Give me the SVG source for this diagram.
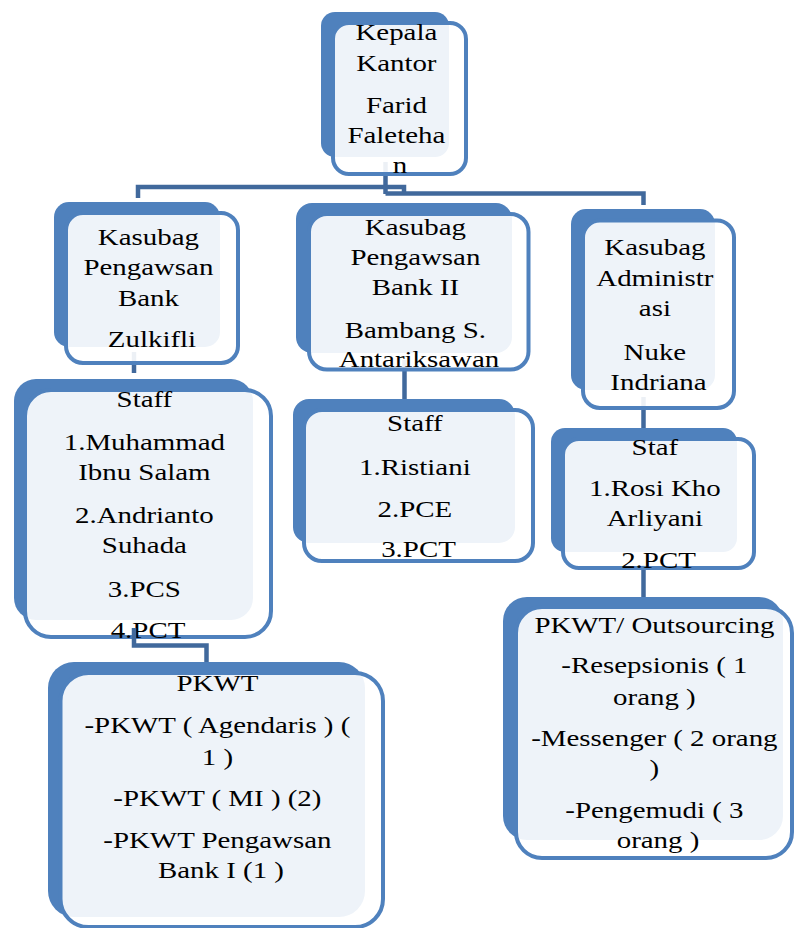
<svg xmlns="http://www.w3.org/2000/svg" width="794" height="928" viewBox="0 0 794 928">
<style>
.back{fill:#4F81BD}
.front{fill:#FFFFFF;fill-opacity:0.9;stroke:#4F81BD;stroke-width:4}
.conn{fill:none;stroke:#41699C;stroke-width:4.5}
.t{font-family:'Liberation Serif','Times New Roman','DejaVu Serif',serif;font-size:23.5px;fill:#000;text-anchor:middle}
</style>
<rect width="794" height="928" fill="#FFFFFF"/>

<g id="node-staff-bank1">
<rect class="back" x="14" y="379" width="239" height="241" rx="22"/>
<rect class="front" x="25" y="390" width="246" height="247" rx="26"/>
<text class="t" font-family="Liberation Serif, Times New Roman, DejaVu Serif, serif" transform="translate(148,0) scale(1.23,1)">
<tspan x="0" y="407">Staff</tspan>
<tspan x="0" y="450">1.Muhammad</tspan>
<tspan x="0" y="480">Ibnu Salam</tspan>
<tspan x="0" y="523">2.Andrianto</tspan>
<tspan x="0" y="553">Suhada</tspan>
<tspan x="0" y="597">3.PCS</tspan>
<tspan x="0" y="638">4.PCT</tspan>
</text>
</g>

<g id="connectors">
<path class="conn" d="M385.5,162 V194"/>
<path class="conn" d="M138,198 V187 H404 V194"/>
<path class="conn" d="M385.5,193.5 H643.5 V205"/>
<path class="conn" d="M134,352 V373"/>
<path class="conn" d="M404.5,360 V399"/>
<path class="conn" d="M643.5,397 V428"/>
<path class="conn" d="M643.5,565 V597"/>
<path class="conn" d="M134,628 V645.5 H206.5 V662"/>
</g>

<g id="node-kepala">
<rect class="back" x="321" y="12" width="128" height="145" rx="14"/>
<rect class="front" x="333" y="23" width="133" height="151" rx="16"/>
<text class="t" font-family="Liberation Serif, Times New Roman, DejaVu Serif, serif" transform="translate(400,0) scale(1.23,1)">
<tspan x="0" y="40">Kepala</tspan>
<tspan x="0" y="71">Kantor</tspan>
<tspan x="0" y="113">Farid</tspan>
<tspan x="0" y="143">Faleteha</tspan>
<tspan x="0" y="173">n</tspan>
</text>
</g>

<g id="node-kasubag-bank1">
<rect class="back" x="54" y="202" width="166" height="145" rx="15"/>
<rect class="front" x="66" y="213" width="172" height="150" rx="17"/>
<text class="t" font-family="Liberation Serif, Times New Roman, DejaVu Serif, serif" transform="translate(152,0) scale(1.23,1)">
<tspan x="0" y="245">Kasubag</tspan>
<tspan x="0" y="275">Pengawsan</tspan>
<tspan x="0" y="306">Bank</tspan>
<tspan x="0" y="347">Zulkifli</tspan>
</text>
</g>

<g id="node-kasubag-bank2">
<rect class="back" x="296" y="203" width="216" height="150" rx="16"/>
<rect class="front" x="309" y="214" width="219.5" height="155.5" rx="18"/>
<text class="t" font-family="Liberation Serif, Times New Roman, DejaVu Serif, serif" transform="translate(419,0) scale(1.23,1)">
<tspan x="0" y="235">Kasubag</tspan>
<tspan x="0" y="265">Pengawsan</tspan>
<tspan x="0" y="295">Bank II</tspan>
<tspan x="0" y="338">Bambang S.</tspan>
<tspan x="0" y="367">Antariksawan</tspan>
</text>
</g>

<g id="node-kasubag-admin">
<rect class="back" x="571" y="209" width="144" height="181" rx="15"/>
<rect class="front" x="583" y="220.5" width="151" height="187.5" rx="17"/>
<text class="t" font-family="Liberation Serif, Times New Roman, DejaVu Serif, serif" transform="translate(658.5,0) scale(1.23,1)">
<tspan x="0" y="255">Kasubag</tspan>
<tspan x="0" y="286.5">Administr</tspan>
<tspan x="0" y="316.5">asi</tspan>
<tspan x="0" y="360">Nuke</tspan>
<tspan x="0" y="390">Indriana</tspan>
</text>
</g>

<g id="node-staff-bank2">
<rect class="back" x="293" y="399" width="222" height="144" rx="16"/>
<rect class="front" x="304" y="410" width="229" height="151" rx="18"/>
<text class="t" font-family="Liberation Serif, Times New Roman, DejaVu Serif, serif" transform="translate(418.5,0) scale(1.23,1)">
<tspan x="0" y="431.5">Staff</tspan>
<tspan x="0" y="475">1.Ristiani</tspan>
<tspan x="0" y="517">2.PCE</tspan>
<tspan x="0" y="557">3.PCT</tspan>
</text>
</g>

<g id="node-staf-admin">
<rect class="back" x="551" y="428" width="186" height="124" rx="14"/>
<rect class="front" x="563" y="439" width="191" height="129" rx="16"/>
<text class="t" font-family="Liberation Serif, Times New Roman, DejaVu Serif, serif" transform="translate(658.5,0) scale(1.23,1)">
<tspan x="0" y="455">Staf</tspan>
<tspan x="0" y="496.5">1.Rosi Kho</tspan>
<tspan x="0" y="526.5">Arliyani</tspan>
<tspan x="0" y="568">2.PCT</tspan>
</text>
</g>

<g id="node-pkwt-admin">
<rect class="back" x="503" y="597" width="280" height="243" rx="24"/>
<rect class="front" x="516" y="607" width="276" height="251" rx="26"/>
<text class="t" font-family="Liberation Serif, Times New Roman, DejaVu Serif, serif" transform="translate(658,0) scale(1.23,1)">
<tspan x="0" y="633">PKWT/ Outsourcing</tspan>
<tspan x="0" y="673">-Resepsionis ( 1</tspan>
<tspan x="0" y="705">orang )</tspan>
<tspan x="0" y="746.5">-Messenger ( 2 orang</tspan>
<tspan x="0" y="776.5">)</tspan>
<tspan x="0" y="818">-Pengemudi ( 3</tspan>
<tspan x="0" y="848">orang )</tspan>
</text>
</g>

<g id="node-pkwt-bank1">
<rect class="back" x="48" y="662" width="317" height="255" rx="26"/>
<rect class="front" x="60.5" y="673" width="322.5" height="254" rx="28"/>
<text class="t" font-family="Liberation Serif, Times New Roman, DejaVu Serif, serif" transform="translate(221,0) scale(1.23,1)">
<tspan x="0" y="691.5">PKWT</tspan>
<tspan x="0" y="733">-PKWT ( Agendaris ) (</tspan>
<tspan x="0" y="765">1 )</tspan>
<tspan x="0" y="806.5">-PKWT ( MI ) (2)</tspan>
<tspan x="0" y="848">-PKWT Pengawsan</tspan>
<tspan x="0" y="878">Bank I (1 )</tspan>
</text>
</g>
</svg>
